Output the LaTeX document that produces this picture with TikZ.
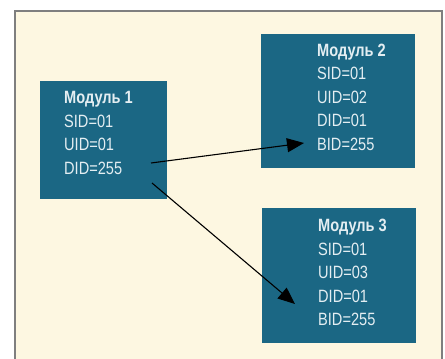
\documentclass[tikz,border=0pt]{standalone}
\usepackage{fontspec}
\setmainfont{Liberation Sans}[FakeStretch=0.82]
\usetikzlibrary{arrows.meta}
\definecolor{cream}{HTML}{FDF7E1}
\definecolor{framegray}{HTML}{7F7F7F}
\definecolor{boxteal}{HTML}{1B6784}
\definecolor{boxtext}{HTML}{E4EEF2}
\tikzset{
  modbox/.style={fill=boxteal, draw=none, inner sep=0pt, anchor=north west},
  modtext/.style={text=boxtext, align=left, inner sep=0pt, anchor=north west,
    font=\fontsize{17.8}{23.5}\selectfont},
  link/.style={line width=1.1pt, black, -{Triangle[length=17pt,width=14pt]}}
}
\begin{document}
\begin{tikzpicture}[x=1pt,y=-1pt]
\useasboundingbox (0,0) rectangle (445,359);
\clip (0,0) rectangle (445,359);
\fill[white] (0,0) rectangle (445,359);
\draw[fill=cream, draw=framegray, line width=2.6pt] (15,11) rectangle (442,380);
% boxes
\node[modbox, minimum width=127pt, minimum height=118pt] (m1) at (40,81) {};
\node[modbox, minimum width=154pt, minimum height=134pt] (m2) at (261,34) {};
\node[modbox, minimum width=154pt, minimum height=135pt] (m3) at (262,208) {};
% texts
\node[modtext] (t1) at (64,91.5) {\textbf{Модуль 1}\\SID=01\\UID=01\\DID=255};
\node[modtext] (t2) at (317,43.5) {\textbf{Модуль 2}\\SID=01\\UID=02\\DID=01\\BID=255};
\node[modtext] (t3) at (318,219) {\textbf{Модуль 3}\\SID=01\\UID=03\\DID=01\\BID=255};
% connectors
\coordinate (s1) at (151,163);
\coordinate (e1) at (304,143);
\coordinate (s2) at (152,183);
\coordinate (e2) at (295,304);
\draw[link] (s1) -- (e1);
\draw[link] (s2) -- (e2);
\end{tikzpicture}
\end{document}
